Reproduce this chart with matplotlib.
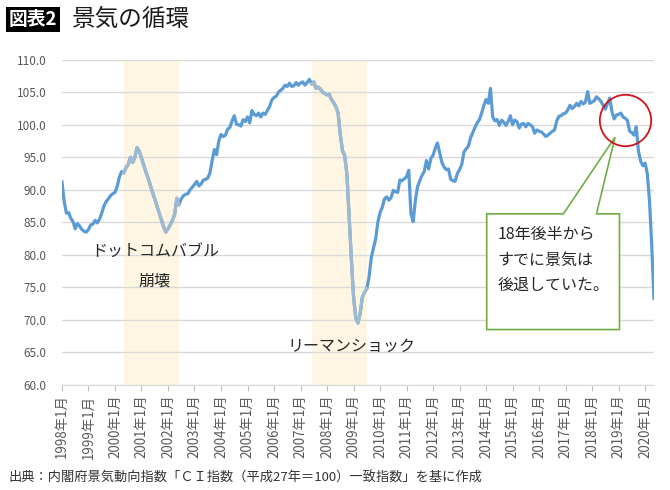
import numpy as np
import pandas as pd
import matplotlib
matplotlib.use("Agg")
import matplotlib.pyplot as plt
from matplotlib.patches import Polygon

plt.rcParams['font.family'] = ['Noto Sans CJK JP', 'DejaVu Sans']

# CI coincident index (2015=100), monthly
ci_values = [
    91.2, 88.2, 86.4, 86.5, 85.6, 85.1, 84.0, 84.8, 84.4, 83.9, 83.6, 83.5,  # 1998
    83.9, 84.6, 84.7, 85.3, 84.9, 85.5, 86.4, 87.5, 88.2, 88.6, 89.1, 89.4,  # 1999
    89.6, 90.5, 92.0, 92.8, 92.6, 93.4, 93.9, 95.0, 94.2, 95.0, 96.5, 95.9,  # 2000
    94.9, 93.8, 92.7, 91.8, 90.7, 89.6, 88.6, 87.5, 86.4, 85.4, 84.3, 83.5,  # 2001
    84.0, 84.6, 85.3, 86.2, 88.7, 87.7, 88.6, 89.1, 89.3, 89.4, 90.0, 90.4,  # 2002
    90.8, 91.3, 90.6, 90.9, 91.5, 91.6, 91.8, 92.6, 94.5, 96.2, 95.4, 97.5,  # 2003
    98.5, 98.2, 98.4, 99.3, 99.6, 100.6, 101.4, 100.1, 100.0, 99.8, 100.8, 100.5,  # 2004
    101.2, 100.3, 102.2, 101.6, 101.4, 101.8, 101.2, 101.8, 101.6, 102.2, 102.8, 103.8,  # 2005
    104.2, 104.4, 105.0, 105.3, 105.6, 106.1, 105.9, 106.4, 105.9, 106.0, 106.5, 106.1,  # 2006
    106.4, 106.6, 106.1, 106.5, 107.0, 106.3, 106.6, 105.6, 105.8, 105.5, 105.0, 104.8,  # 2007
    104.6, 104.7, 103.9, 103.4, 102.8, 101.8, 98.5, 96.0, 95.3, 92.4, 86.0, 79.5,  # 2008
    73.6, 70.3, 69.5, 71.0, 73.5, 74.2, 74.8, 76.5, 79.5, 81.0, 82.4, 85.0,  # 2009
    86.5, 87.3, 88.6, 88.9, 88.4, 88.8, 89.9, 89.7, 89.6, 91.5, 91.4, 91.7,  # 2010
    92.0, 93.0, 86.3, 85.1, 88.4, 90.5, 91.4, 92.2, 92.8, 94.5, 93.2, 94.8,  # 2011
    95.3, 96.4, 97.2, 95.7, 94.2, 93.5, 93.1, 93.2, 91.6, 91.4, 91.3, 92.5,  # 2012
    93.1, 93.9, 95.8, 96.3, 96.7, 98.0, 98.8, 99.6, 100.3, 100.8, 101.8, 103.0,  # 2013
    103.9, 103.3, 105.6, 101.2, 100.6, 100.8, 99.9, 100.7, 100.4, 99.9, 100.5, 101.4,  # 2014
    100.0, 100.7, 100.5, 99.5, 100.1, 100.2, 99.7, 100.2, 100.0, 99.7, 98.7, 99.2,  # 2015
    99.0, 98.9, 98.6, 98.2, 98.4, 98.7, 99.0, 99.2, 100.6, 101.3, 101.4, 101.7,  # 2016
    101.8, 102.3, 103.0, 102.5, 102.8, 103.3, 102.9, 103.6, 103.2, 103.5, 105.1, 103.3,  # 2017
    103.5, 103.7, 104.3, 104.0, 103.6, 103.0, 102.4, 103.3, 104.1, 102.0, 100.9, 101.5,  # 2018
    101.6, 101.8, 101.2, 101.0, 100.7, 99.0, 98.8, 98.4, 99.7, 95.9, 94.4, 93.7,  # 2019
    94.1, 92.5, 88.3, 81.5, 73.3,  # 2020
]
start_month = "1998-01"

tick_years = list(range(1998, 2021))
tick_labels = [f"{y}年1月" for y in tick_years]

# recession periods: shaded, line drawn lighter
recessions = [("2000-05", "2002-05"), ("2007-06", "2009-06")]

# text annotations (month, value)
labels = [("ドットコムバブル", "2001-07", 80.5),
          ("崩壊", "2001-07", 75.9),
          ("リーマンショック", "2008-12", 65.9)]

callout_text = "18年後半から\nすでに景気は\n後退していた。"

months = pd.period_range(start_month, periods=len(ci_values), freq="M")
x = np.arange(len(ci_values))
y = np.array(ci_values)


def month_index(s):
    return (pd.Period(s, freq="M") - months[0]).n


main_color = '#5B9BD5'
light_color = '#9FBAD0'

fig = plt.figure(figsize=(6.7, 4.9), dpi=100)
ax = fig.add_axes([0.0925, 0.2147, 0.8835, 0.6633])

# shaded recession periods + lighter line
ax.plot(x, y, color=main_color, lw=2.3, solid_joinstyle='round', zorder=3)
for s, e in recessions:
    i0, i1 = month_index(s), month_index(e) + 1
    ax.axvspan(i0, i1, color='#FEF6E2', lw=0, zorder=0)
    ax.plot(x[i0:i1 + 1], y[i0:i1 + 1], color=light_color, lw=2.3,
            solid_joinstyle='round', zorder=4)

ax.set_xlim(0, len(ci_values) - 1)
ax.set_ylim(60, 110)
ax.set_yticks(np.arange(60, 110.1, 5))
ax.set_yticklabels([f"{v:.1f}" for v in np.arange(60, 110.1, 5)])
ax.set_xticks([month_index(f"{yr}-01") for yr in tick_years])
ax.set_xticklabels(tick_labels, rotation=90)

ax.yaxis.grid(True, color='#D9D9D9', lw=1)
ax.set_axisbelow(True)
for side in ['top', 'right', 'left']:
    ax.spines[side].set_visible(False)
ax.spines['bottom'].set_color('#D9D9D9')
ax.tick_params(axis='y', length=0, pad=11, labelsize=8.5, labelcolor='#595959')
ax.tick_params(axis='x', length=4, color='#BFBFBF', pad=3, labelsize=9.6, labelcolor='#595959')

for txt, m, v in labels:
    ax.text(month_index(m), v, txt, fontsize=11.5, ha='center', va='center',
            color='#262626', zorder=5)

# callout box pointing to the circled area
bx0, bx1 = month_index("2014-01") + 0.3, month_index("2019-01") + 0.4
by0, by1 = 68.5, 86.3
tip = (month_index("2018-11") + 0.4, 98.1)
verts = [(bx0, by1), (month_index("2016-12"), by1), tip,
         (month_index("2018-03"), by1), (bx1, by1), (bx1, by0), (bx0, by0)]
ax.add_patch(Polygon(verts, closed=True, facecolor='white', edgecolor='#70AD47',
                     lw=1.2, zorder=6, clip_on=False))
ax.text(bx0 + 5, by1 - 1.9, callout_text, fontsize=11.5, va='top', ha='left',
        color='#262626', linespacing=1.65, zorder=7)

# red circle
ax.plot(month_index("2019-04"), 100.7, 'o', ms=37, mfc='none', mec='#D0141C',
        mew=1.3, zorder=8, clip_on=False)

# title
fig.text(0.013, 1 - 19.5 / 490, "図表2", fontsize=13.5, fontweight='bold', color='white',
         va='center', ha='left',
         bbox=dict(facecolor='black', edgecolor='none', pad=2))
fig.text(0.108, 1 - 19.5 / 490, "景気の循環", fontsize=17, color='#1a1a1a',
         va='center', ha='left')

fig.text(0.012, 1 - 478 / 490,
         "出典：内閣府景気動向指数「ＣＩ指数（平成27年＝100）一致指数」を基に作成",
         fontsize=9.5, color='#333333', va='center', ha='left')

fig.savefig("out.png", dpi=100)
